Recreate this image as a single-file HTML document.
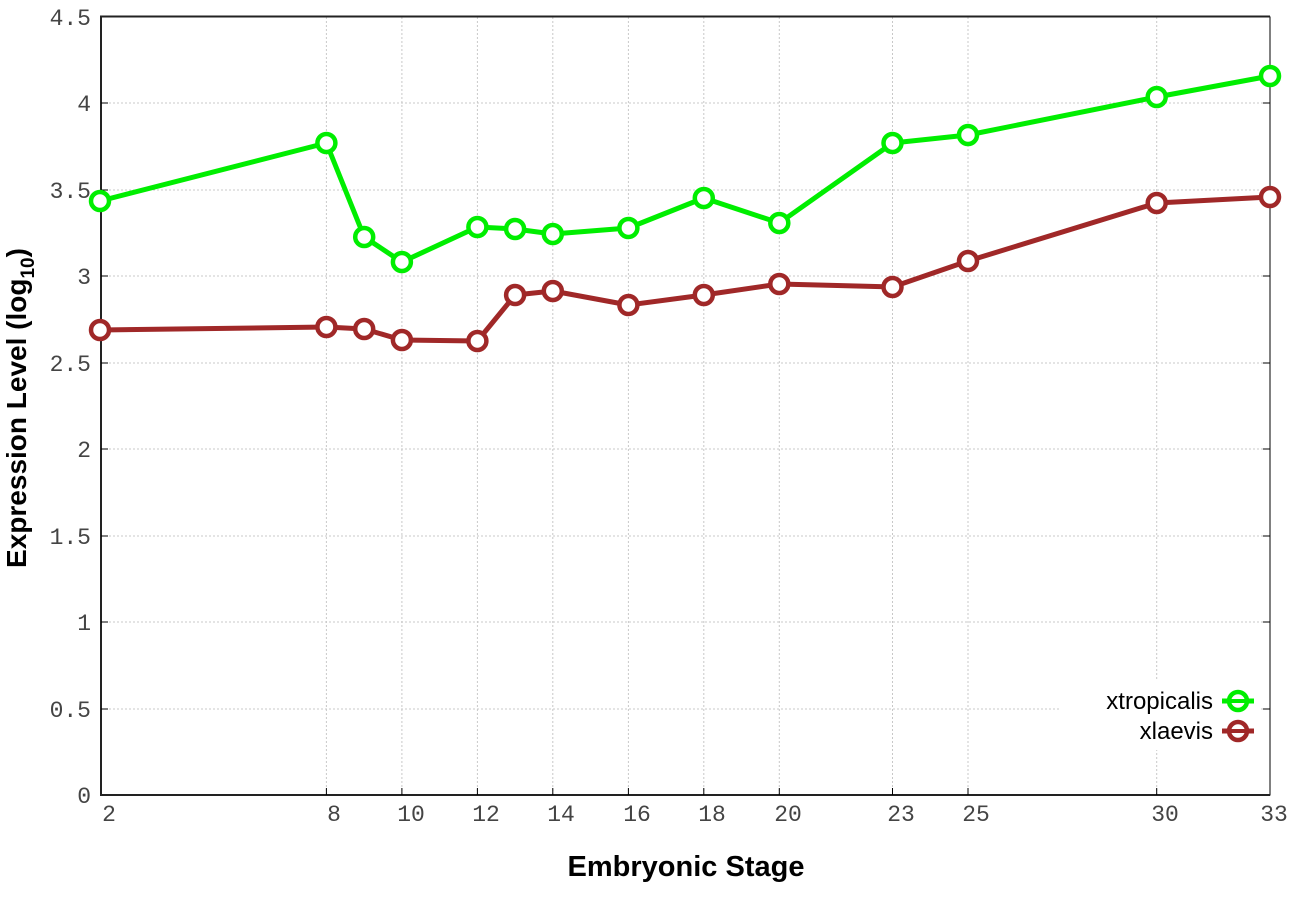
<!DOCTYPE html>
<html><head><style>body{margin:0;background:#fff}svg{display:block}</style></head><body>
<svg width="1296" height="907" xmlns="http://www.w3.org/2000/svg" font-family="Liberation Mono, monospace">
<rect width="1296" height="907" fill="#fff"/>
<g stroke="#c8c8c8" stroke-width="1" stroke-dasharray="2,2">
<line x1="101" y1="709" x2="1270" y2="709"/><line x1="101" y1="622" x2="1270" y2="622"/><line x1="101" y1="536" x2="1270" y2="536"/><line x1="101" y1="449" x2="1270" y2="449"/><line x1="101" y1="363" x2="1270" y2="363"/><line x1="101" y1="276" x2="1270" y2="276"/><line x1="101" y1="190" x2="1270" y2="190"/><line x1="101" y1="103" x2="1270" y2="103"/>
<line x1="326.4" y1="17" x2="326.4" y2="795"/><line x1="401.9" y1="17" x2="401.9" y2="795"/><line x1="477.4" y1="17" x2="477.4" y2="795"/><line x1="552.8" y1="17" x2="552.8" y2="795"/><line x1="628.4" y1="17" x2="628.4" y2="795"/><line x1="703.8" y1="17" x2="703.8" y2="795"/><line x1="779.3" y1="17" x2="779.3" y2="795"/><line x1="892.5" y1="17" x2="892.5" y2="795"/><line x1="968" y1="17" x2="968" y2="795"/><line x1="1156.7" y1="17" x2="1156.7" y2="795"/>
</g>
<rect x="101" y="17" width="1169" height="778" fill="none" stroke="#000" stroke-width="1"/>
<line x1="100" y1="16.5" x2="1270" y2="16.5" stroke="#222" stroke-width="2"/>
<line x1="101" y1="16" x2="101" y2="796" stroke="#222" stroke-width="2"/>
<line x1="100" y1="795" x2="1270" y2="795" stroke="#222" stroke-width="2"/>
<g stroke="#000" stroke-width="1">
<line x1="101" y1="709" x2="108" y2="709"/><line x1="101" y1="622" x2="108" y2="622"/><line x1="101" y1="536" x2="108" y2="536"/><line x1="101" y1="449" x2="108" y2="449"/><line x1="101" y1="363" x2="108" y2="363"/><line x1="101" y1="276" x2="108" y2="276"/><line x1="101" y1="190" x2="108" y2="190"/><line x1="101" y1="103" x2="108" y2="103"/>
<line x1="1263" y1="709" x2="1270" y2="709"/><line x1="1263" y1="622" x2="1270" y2="622"/><line x1="1263" y1="536" x2="1270" y2="536"/><line x1="1263" y1="449" x2="1270" y2="449"/><line x1="1263" y1="363" x2="1270" y2="363"/><line x1="1263" y1="276" x2="1270" y2="276"/><line x1="1263" y1="190" x2="1270" y2="190"/><line x1="1263" y1="103" x2="1270" y2="103"/>
<line x1="326.4" y1="788" x2="326.4" y2="795"/><line x1="401.9" y1="788" x2="401.9" y2="795"/><line x1="477.4" y1="788" x2="477.4" y2="795"/><line x1="552.8" y1="788" x2="552.8" y2="795"/><line x1="628.4" y1="788" x2="628.4" y2="795"/><line x1="703.8" y1="788" x2="703.8" y2="795"/><line x1="779.3" y1="788" x2="779.3" y2="795"/><line x1="892.5" y1="788" x2="892.5" y2="795"/><line x1="968" y1="788" x2="968" y2="795"/><line x1="1156.7" y1="788" x2="1156.7" y2="795"/>
</g>
<g font-size="23" fill="#444" text-anchor="end">
<text x="91" y="803">0</text><text x="91" y="717">0.5</text><text x="91" y="630">1</text><text x="91" y="544">1.5</text><text x="91" y="457">2</text><text x="91" y="371">2.5</text><text x="91" y="284">3</text><text x="91" y="198">3.5</text><text x="91" y="111">4</text><text x="91" y="25">4.5</text>
</g>
<g font-size="23" fill="#444" text-anchor="middle">
<text x="109" y="821">2</text><text x="334" y="821">8</text><text x="411" y="821">10</text><text x="486" y="821">12</text><text x="561" y="821">14</text><text x="637" y="821">16</text><text x="712" y="821">18</text><text x="788" y="821">20</text><text x="901" y="821">23</text><text x="976" y="821">25</text><text x="1165" y="821">30</text><text x="1274" y="821">33</text>
</g>
<g font-family="Liberation Sans, sans-serif" font-weight="bold" font-size="29" fill="#000" text-anchor="middle">
<text x="686" y="876">Embryonic Stage</text>
<text transform="translate(26,408) rotate(-90)" font-size="28">Expression Level (log<tspan font-size="19" dy="8">10</tspan><tspan dy="-8">)</tspan></text>
</g>
<g fill="none" stroke-width="5" stroke-linejoin="round">
<polyline stroke="#00ee00" points="100,201 326.4,143 364.2,237 401.9,262 477.4,227 515.1,229 552.8,234 628.4,228 703.8,198 779.3,223 892.5,143 968,135 1156.7,97 1270,76"/>
<polyline stroke="#a02828" points="100,330 326.4,327 364.2,329 401.9,340 477.4,341 515.1,295 552.8,291 628.4,305 703.8,295 779.3,284 892.5,287 968,261 1156.7,203 1270,197"/>
</g>
<g fill="#fff" stroke="#00ee00" stroke-width="4.5">
<circle cx="100" cy="201" r="9"/><circle cx="326.4" cy="143" r="9"/><circle cx="364.2" cy="237" r="9"/><circle cx="401.9" cy="262" r="9"/><circle cx="477.4" cy="227" r="9"/><circle cx="515.1" cy="229" r="9"/><circle cx="552.8" cy="234" r="9"/><circle cx="628.4" cy="228" r="9"/><circle cx="703.8" cy="198" r="9"/><circle cx="779.3" cy="223" r="9"/><circle cx="892.5" cy="143" r="9"/><circle cx="968" cy="135" r="9"/><circle cx="1156.7" cy="97" r="9"/><circle cx="1270" cy="76" r="9"/>
</g>
<g fill="#fff" stroke="#a02828" stroke-width="4.5">
<circle cx="100" cy="330" r="9"/><circle cx="326.4" cy="327" r="9"/><circle cx="364.2" cy="329" r="9"/><circle cx="401.9" cy="340" r="9"/><circle cx="477.4" cy="341" r="9"/><circle cx="515.1" cy="295" r="9"/><circle cx="552.8" cy="291" r="9"/><circle cx="628.4" cy="305" r="9"/><circle cx="703.8" cy="295" r="9"/><circle cx="779.3" cy="284" r="9"/><circle cx="892.5" cy="287" r="9"/><circle cx="968" cy="261" r="9"/><circle cx="1156.7" cy="203" r="9"/><circle cx="1270" cy="197" r="9"/>
</g>
<rect x="1060" y="680" width="200" height="70" fill="#fff"/>
<g font-family="Liberation Sans, sans-serif" font-size="24" fill="#000" text-anchor="end">
<text x="1213" y="709">xtropicalis</text><text x="1213" y="739">xlaevis</text>
</g>
<line x1="1222" y1="701" x2="1254" y2="701" stroke="#00ee00" stroke-width="5"/>
<circle cx="1238" cy="701" r="9" fill="#fff" stroke="#00ee00" stroke-width="4.5"/>
<line x1="1222" y1="731" x2="1254" y2="731" stroke="#a02828" stroke-width="5"/>
<circle cx="1238" cy="731" r="9" fill="#fff" stroke="#a02828" stroke-width="4.5"/>
<line x1="1229" y1="701" x2="1247" y2="701" stroke="#00ee00" stroke-width="4"/>
<line x1="1229" y1="731" x2="1247" y2="731" stroke="#a02828" stroke-width="4"/>
</svg>
</body></html>
